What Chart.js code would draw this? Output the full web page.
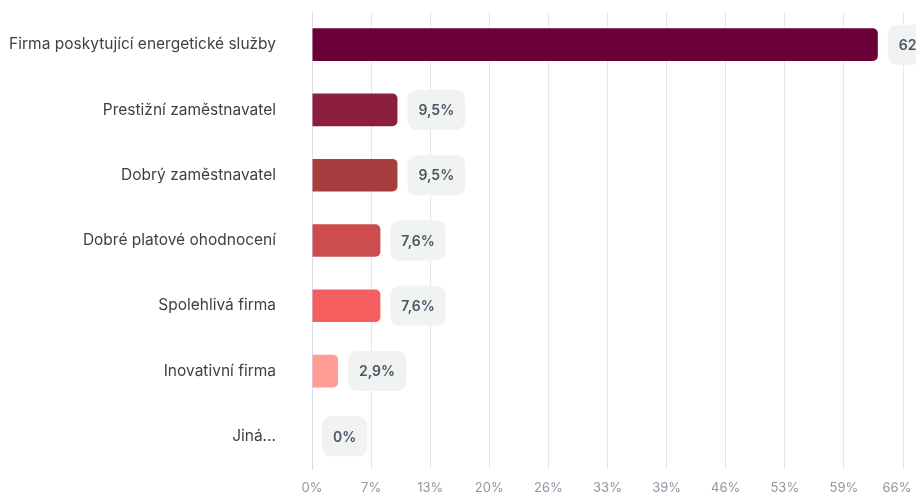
<!DOCTYPE html>
<html>
<head>
	<meta charset="UTF-8">
	<title>Firma poskytující energetické služby</title>
	<style>
		html, body { margin: 0; padding: 0; background: #fff; }
		#wrap { width: 916px; height: 495px; }
	</style>
	<script src="https://cdn.jsdelivr.net/npm/chart.js@4/dist/chart.umd.min.js"></script>
</head>
<body>
	<div id="wrap"><canvas id="canvas"></canvas></div>
	<script>
		var labels = [
			'Firma poskytující energetické služby',
			'Prestižní zaměstnavatel',
			'Dobrý zaměstnavatel',
			'Dobré platové ohodnocení',
			'Spolehlivá firma',
			'Inovativní firma',
			'Jiná...'
		];
		var values = [62.9, 9.5, 9.5, 7.6, 7.6, 2.9, 0];
		var barColors = ['#6a0037', '#8c1f3f', '#a73d3f', '#cd4d4f', '#f45e5f', '#fd9d94', '#fdc3bc'];
		var axisMax = 65.7;
		var axisStep = 6.57;

		function pct(v) {
			return String(v).replace('.', ',') + '%';
		}

		// rounded grey pill with the value, right of each bar
		var valuePills = {
			id: 'valuePills',
			afterDatasetsDraw: function(chart) {
				var ctx = chart.ctx;
				var meta = chart.getDatasetMeta(0);
				ctx.save();
				ctx.font = '600 14px Inter';
				ctx.textBaseline = 'middle';
				ctx.textAlign = 'left';
				meta.data.forEach(function(bar, i) {
					var text = pct(values[i]);
					var w = ctx.measureText(text).width + 22;
					var h = 40;
					var x = bar.x + 10;
					var y = bar.y - h / 2;
					ctx.fillStyle = '#f1f2f2';
					ctx.beginPath();
					ctx.roundRect(x, y, w, h, 9);
					ctx.fill();
					ctx.fillStyle = '#4b5563';
					ctx.fillText(text, x + 11, bar.y + 1);
				});
				ctx.restore();
			}
		};

		new Chart(document.getElementById('canvas'), {
			type: 'bar',
			data: {
				labels: labels,
				datasets: [{
					data: values,
					backgroundColor: barColors,
					borderRadius: 5,
					borderSkipped: 'start',
					barPercentage: 0.5,
					categoryPercentage: 1
				}]
			},
			plugins: [valuePills],
			options: {
				indexAxis: 'y',
				responsive: true,
				maintainAspectRatio: false,
				animation: false,
				layout: { padding: { top: 12, right: 13, bottom: 0, left: 0 } },
				plugins: {
					legend: { display: false },
					tooltip: { enabled: false }
				},
				scales: {
					x: {
						min: 0,
						max: axisMax,
						border: { display: false },
						grid: { color: '#e6e7e9', drawTicks: false },
						ticks: {
							stepSize: axisStep,
							padding: 11,
							color: '#9097a0',
							font: { family: 'Inter', size: 13 },
							callback: function(v) {
								var s = Math.round(v) + '%';
								// pull the last label back inside the canvas
								return v >= axisMax ? s + '\u2007 ' : s;
							}
						},
						afterFit: function(s) { s.height = 26; s.paddingLeft = 0; s.paddingRight = 0; }
					},
					y: {
						border: { display: true, color: '#d5dff0', width: 1 },
						grid: { display: false, drawTicks: false },
						ticks: {
							padding: 36,
							color: '#3f3f46',
							font: { family: 'Inter', size: 15.5 }
						},
						afterFit: function(s) { s.width = 312; s.paddingTop = 0; s.paddingBottom = 0; }
					}
				}
			}
		});
	</script>
</body>
</html>
